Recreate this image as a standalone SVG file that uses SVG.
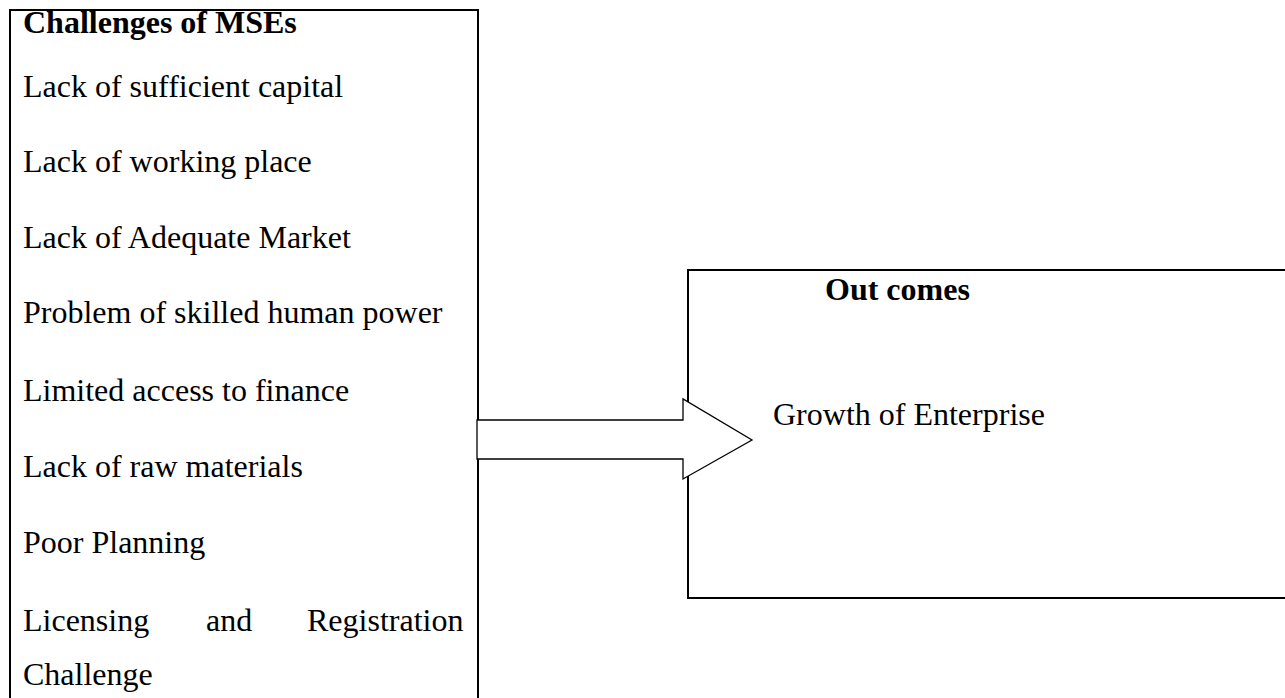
<svg xmlns="http://www.w3.org/2000/svg" width="1285" height="698" viewBox="0 0 1285 698">
<style>
.box{fill:none;stroke:#000;stroke-width:2}
.t{font-family:"Liberation Serif","Times New Roman",serif;font-size:32px;fill:#000}
.b{font-weight:bold}
.arrow{fill:#fff;stroke:#000;stroke-width:1.3;stroke-linejoin:miter}
</style>
<rect width="1285" height="698" fill="#fff"/>
<g id="challenges">
<rect class="box" x="10" y="10" width="468" height="720"/>
<text class="t b" x="23" y="33">Challenges of MSEs</text>
<text class="t" x="23" y="97">Lack of sufficient capital</text>
<text class="t" x="23" y="172">Lack of working place</text>
<text class="t" x="23" y="248">Lack of Adequate Market</text>
<text class="t" x="23" y="323">Problem of skilled human power</text>
<text class="t" x="23" y="401">Limited access to finance</text>
<text class="t" x="23" y="477">Lack of raw materials</text>
<text class="t" x="23" y="553">Poor Planning</text>
<text class="t" x="23" y="631">Licensing</text>
<text class="t" x="206" y="631">and</text>
<text class="t" x="307" y="631">Registration</text>
<text class="t" x="23" y="685">Challenge</text>
</g>
<g id="outcomes">
<rect class="box" x="688" y="270" width="640" height="328"/>
<text class="t b" x="825" y="300">Out comes</text>
<text class="t" x="773" y="425">Growth of Enterprise</text>
</g>
<g id="connectors">
<path class="arrow" d="M477,420 H683 V399 L752,440 L683,479 V459 H477 Z"/>
</g>
</svg>
